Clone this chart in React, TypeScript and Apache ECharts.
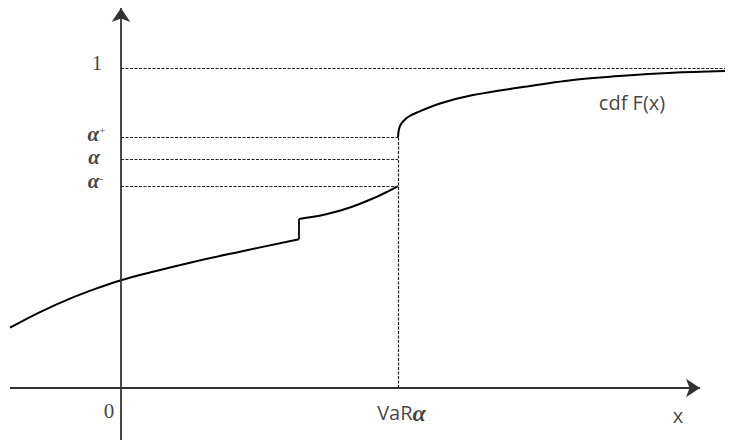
import React, { useEffect, useRef } from "react";
import * as echarts from "echarts";

// ---- data (x in units where VaR = 1, y = F(x) probability) ----
const lowerLeftX = [-0.4007, -0.2924, -0.1841, -0.0758, 0, 0.1047, 0.2491, 0.4296, 0.6426];
const lowerLeftY = [0.1884, 0.2372, 0.2794, 0.315, 0.3366, 0.3609, 0.3916, 0.4259, 0.4647];
const lowerRightX = [0.6426, 0.7365, 0.8267, 0.917, 0.9711, 1];
const lowerRightY = [0.5281, 0.5419, 0.5641, 0.595, 0.6178, 0.631];
const upperX = [1, 1.0029, 1.009, 1.0181, 1.0361, 1.0686, 1.1516, 1.2708, 1.4513, 1.6318, 1.8123, 1.9928, 2.1805];
const upperY = [0.7828, 0.8063, 0.8219, 0.8328, 0.8469, 0.8609, 0.8891, 0.9156, 0.9406, 0.9625, 0.9759, 0.9853, 0.9906];

const levelNames = ["1", "α+", "α", "α-"];
const levelValues = [1, 0.7828, 0.716, 0.631];
const levelEnds = [2.1805, 1, 1, 1];

const varValue = 1;
const xAxisRange = [-0.4007, 2.0903];
const yAxisRange = [-0.1625, 1.1875];
const xTickNames = ["0", "VaR", "x"];
const curveName = "cdf F(x)";

const X_MIN = -0.4368;
const X_MAX = 2.2166;
const Y_MIN = -0.1719;
const Y_MAX = 1.2125;

const serif = "'Liberation Serif', 'DejaVu Serif', serif";
const sans = "'Open Sans', 'Liberation Sans', sans-serif";

export default function App() {
  const ref = useRef<HTMLDivElement>(null);
  useEffect(() => {
    if (!ref.current) return;
    const chart = echarts.init(ref.current, null, { renderer: "svg" });

    const curveStyle = { color: "#000", width: 2 };
    const mkLine = (xs: number[], ys: number[], smooth: number) => ({
      type: "line",
      data: xs.map((x, i) => [x, ys[i]]),
      symbol: "none",
      showSymbol: false,
      smooth,
      clip: false,
      silent: true,
      lineStyle: curveStyle,
    });

    const alphaRich = {
      a: { fontFamily: serif, fontStyle: "italic", fontWeight: "bold", fontSize: 21, lineHeight: 18, color: "#111" },
      s: { fontFamily: serif, fontSize: 11, lineHeight: 18, color: "#111", verticalAlign: "top" },
      n: { fontFamily: serif, fontSize: 21, lineHeight: 18, color: "#111" },
    };
    const levelOffsets = [
      [-24, -5],
      [-24.5, -4],
      [-27, -2],
      [-25.5, -5],
    ];
    const levelFormat = (name: string) => {
      if (name === "1") return "{n|1}";
      if (name === "α+") return "{a|α}{s|+}";
      if (name === "α-") return "{a|α}{s|-}";
      return "{a|α}";
    };

    const labelData: any[] = [];
    levelNames.forEach((name, i) => {
      labelData.push({
        value: [0, levelValues[i]],
        label: {
          show: true,
          position: "inside",
          formatter: levelFormat(name),
          rich: alphaRich,
          offset: levelOffsets[i],
        },
      });
    });
    labelData.push({
      value: [0, 0],
      label: {
        show: true,
        position: "inside",
        formatter: xTickNames[0],
        fontFamily: serif,
        fontSize: 21,
        color: "#111",
        offset: [-12, 23],
      },
    });
    labelData.push({
      value: [varValue, 0],
      label: {
        show: true,
        position: "inside",
        formatter: "{v|" + xTickNames[1] + "}{a|α}",
        rich: {
          v: { fontFamily: sans, fontSize: 20, color: "#111" },
          a: { fontFamily: serif, fontStyle: "italic", fontWeight: "bold", fontSize: 24, color: "#111" },
        },
        offset: [3.5, 25],
      },
    });
    labelData.push({
      value: [xAxisRange[1], 0],
      label: {
        show: true,
        position: "inside",
        formatter: xTickNames[2],
        fontFamily: sans,
        fontSize: 20,
        color: "#111",
        offset: [-22, 28],
      },
    });
    labelData.push({
      value: [upperX[10], upperY[10]],
      label: {
        show: true,
        position: "inside",
        formatter: curveName,
        fontFamily: sans,
        fontSize: 20,
        color: "#111",
        offset: [9, 27],
      },
    });

    const guideData: any[] = levelValues.map((v, i) => [
      { coord: [0, v] },
      { coord: [levelEnds[i], v] },
    ]);
    guideData.push([{ coord: [varValue, 0] }, { coord: [varValue, levelValues[1]] }]);

    chart.setOption({
      animation: false,
      grid: { left: 0, right: 0, top: 0, bottom: 0 },
      xAxis: { type: "value", min: X_MIN, max: X_MAX, show: false },
      yAxis: { type: "value", min: Y_MIN, max: Y_MAX, show: false },
      series: [
        {
          type: "line",
          data: [],
          silent: true,
          markLine: {
            silent: true,
            symbol: "none",
            label: { show: false },
            lineStyle: { color: "#222", width: 1.2, type: [3, 1.5] },
            emphasis: { disabled: true },
            data: guideData,
          },
        },
        {
          type: "line",
          data: [],
          silent: true,
          markLine: {
            silent: true,
            symbol: ["none", "arrow"],
            symbolSize: 14,
            label: { show: false },
            lineStyle: { color: "#333", width: 1.8, type: "solid" },
            itemStyle: { color: "#000" },
            emphasis: { disabled: true },
            data: [
              [{ coord: [xAxisRange[0], 0] }, { coord: [xAxisRange[1], 0] }],
              [{ coord: [0, yAxisRange[0]] }, { coord: [0, yAxisRange[1]] }],
            ],
          },
        },
        mkLine(lowerLeftX, lowerLeftY, 0.4),
        mkLine(lowerRightX, lowerRightY, 0.4),
        mkLine(upperX, upperY, 0.3),
        {
          type: "line",
          data: [
            [lowerLeftX[lowerLeftX.length - 1], lowerLeftY[lowerLeftY.length - 1]],
            [lowerRightX[0], lowerRightY[0]],
          ],
          symbol: "none",
          silent: true,
          lineStyle: { color: "#000", width: 1.8 },
        },
        {
          type: "scatter",
          data: labelData,
          symbolSize: 1,
          silent: true,
          itemStyle: { color: "rgba(0,0,0,0)" },
          clip: false,
        },
      ],
    });
    return () => chart.dispose();
  }, []);

  return (
    <div
      ref={ref}
      style={{ position: "fixed", left: 0, top: 0, width: 735, height: 443, background: "#fff" }}
    />
  );
}
